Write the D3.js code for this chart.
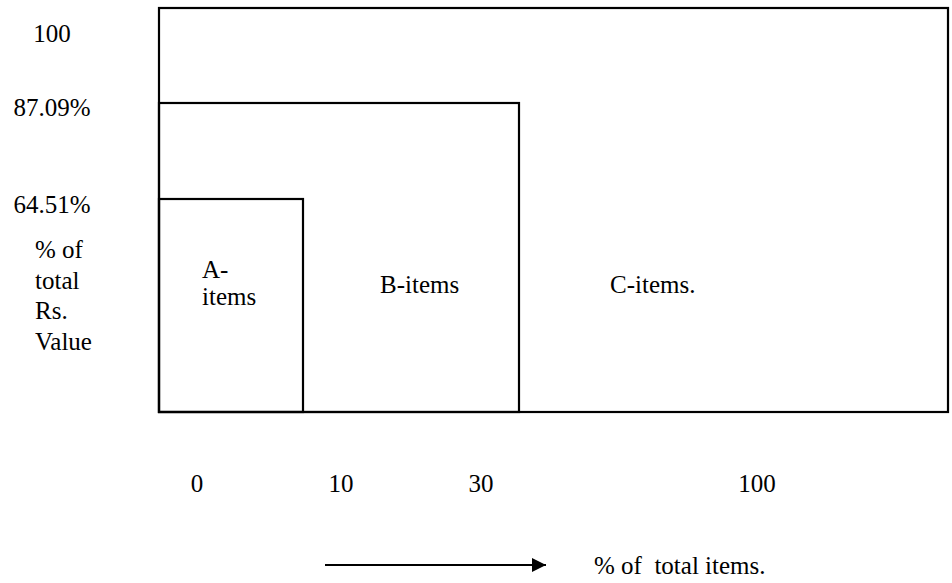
<!DOCTYPE html>
<html>
<head>
<meta charset="utf-8">
<script src="https://cdn.jsdelivr.net/npm/d3@7"></script>
<style>
  body { margin: 0; background: #fff; }
</style>
</head>
<body>
<div id="chart"></div>
<script>
// ABC analysis diagram (not drawn to scale in the original)
const classes = ["A-items", "B-items", "C-items."];
const itemPct = [10, 30, 100];          // cumulative % of total items
const valuePct = [64.51, 87.09, 100];   // cumulative % of total Rs. value
const xTicks = [0, 10, 30, 100];
const xTickLabels = ["0", "10", "30", "100"];
const yTicks = [64.51, 87.09, 100];
const yTickLabels = ["64.51%", "87.09%", "100"];
const yTitle = ["% of", "total", "Rs.", "Value"];
const xTitle = "% of\u00a0 total items.";

const width = 952, height = 583;
const fs = 25;
const serif = "'Times New Roman'";

const svg = d3.select("#chart").append("svg")
  .attr("width", width)
  .attr("height", height);

// piecewise scales, the boxes are schematic
const x = d3.scaleLinear().domain([0, 10, 30, 100]).range([159, 303, 519, 948]);
const y = d3.scaleLinear().domain([0, 64.51, 87.09, 100]).range([412, 199, 103, 8]);
// label placement scales
const xLab = d3.scaleLinear().domain([0, 10, 30, 100]).range([197, 341, 481, 757]);
const yLab = d3.scaleLinear().domain([64.51, 87.09, 100]).range([213, 116, 42]);

// boxes, biggest first
const boxes = classes.map((c, i) => ({name: c, xp: itemPct[i], yp: valuePct[i]})).reverse();
svg.append("g")
  .selectAll("rect")
  .data(boxes)
  .join("rect")
    .attr("x", x(0))
    .attr("y", d => y(d.yp))
    .attr("width", d => x(d.xp) - x(0))
    .attr("height", d => y(0) - y(d.yp))
    .attr("fill", "none")
    .attr("stroke", "#000")
    .attr("stroke-width", 2.2);

// all text as one list, like a simple label layer
const labels = [
  {t: "A-", x: 202, y: 278},
  {t: "items", x: 202, y: 305},
  {t: classes[1], x: 380, y: 293},
  {t: classes[2], x: 610, y: 293},
  ...yTicks.map((v, i) => ({t: yTickLabels[i], x: 52, y: yLab(v), a: "middle"})),
  ...yTitle.map((s, i) => ({t: s, x: 35, y: 258 + i * 30.7})),
  ...xTicks.map((v, i) => ({t: xTickLabels[i], x: xLab(v), y: 492, a: "middle"})),
  {t: xTitle, x: 594, y: 574}
];

svg.selectAll("text")
  .data(labels)
  .join("text")
    .attr("x", d => d.x)
    .attr("y", d => d.y)
    .attr("text-anchor", d => d.a || "start")
    .attr("font-size", fs)
    .attr("font-family", serif)
    .text(d => d.t);

// arrow
svg.append("defs").append("marker")
  .attr("id", "arr")
  .attr("viewBox", "0 0 10 10")
  .attr("refX", 10).attr("refY", 5)
  .attr("markerWidth", 14).attr("markerHeight", 14)
  .attr("markerUnits", "userSpaceOnUse")
  .attr("orient", "auto")
  .append("path")
    .attr("d", "M0,0L10,5L0,10Z")
    .attr("fill", "#000");

svg.append("line")
  .attr("x1", 325).attr("x2", 546)
  .attr("y1", 565).attr("y2", 565)
  .attr("stroke", "#000")
  .attr("stroke-width", 2)
  .attr("marker-end", "url(#arr)");
</script>
</body>
</html>
